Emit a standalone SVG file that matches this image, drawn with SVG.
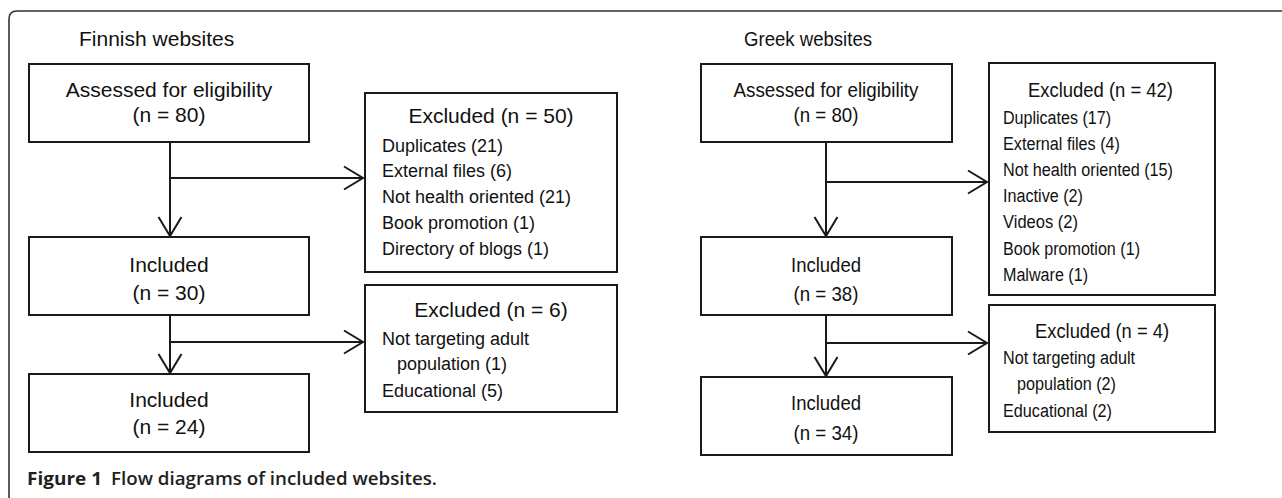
<svg xmlns="http://www.w3.org/2000/svg" width="1282" height="498" viewBox="0 0 1282 498">
<style>
.box{fill:#fff;stroke:#1a1a1a;stroke-width:2}
.ln{fill:none;stroke:#1a1a1a;stroke-width:2}
.t{font-family:"Liberation Sans",Arial,sans-serif;font-size:21px;fill:#111}
.c{text-anchor:middle}
.i{font-family:"Liberation Sans",Arial,sans-serif;font-size:18px;fill:#111}
.cap{font-family:"Open Sans","Noto Sans",sans-serif;font-size:18.5px;fill:#231f20}
</style>
<defs>
<marker id="ah" viewBox="-20 -13 22 26" refX="0" refY="0" markerWidth="22" markerHeight="26" markerUnits="userSpaceOnUse" orient="auto">
<path d="M-19,-11.5 L0,0 L-19,11.5" fill="none" stroke="#1a1a1a" stroke-width="2"/>
</marker>
</defs>
<rect width="1282" height="498" fill="#fff"/>
<path d="M9,498 V19 Q9,11 17,11 H1282" fill="none" stroke="#333" stroke-width="1.6"/>

<text class="t" x="79" y="46">Finnish websites</text>
<text class="t" x="744" y="46" textLength="128" lengthAdjust="spacingAndGlyphs">Greek websites</text>

<g id="connectors">
<path class="ln" d="M170,142 V236" marker-end="url(#ah)"/>
<path class="ln" d="M170,178 H363" marker-end="url(#ah)"/>
<path class="ln" d="M170,316 V373" marker-end="url(#ah)"/>
<path class="ln" d="M170,342 H363" marker-end="url(#ah)"/>
<path class="ln" d="M826,142 V236" marker-end="url(#ah)"/>
<path class="ln" d="M826,182 H987" marker-end="url(#ah)"/>
<path class="ln" d="M826,316 V376" marker-end="url(#ah)"/>
<path class="ln" d="M826,343 H987" marker-end="url(#ah)"/>
</g>

<g id="fi-assessed">
<rect class="box" x="29" y="64" width="280" height="78"/>
<text class="t c" x="169" y="97">Assessed for eligibility</text>
<text class="t c" x="169" y="122">(n = 80)</text>
</g>
<g id="fi-included1">
<rect class="box" x="29" y="237" width="280" height="78"/>
<text class="t c" x="169" y="272">Included</text>
<text class="t c" x="169" y="300">(n = 30)</text>
</g>
<g id="fi-included2">
<rect class="box" x="29" y="374" width="280" height="78"/>
<text class="t c" x="169" y="407">Included</text>
<text class="t c" x="169" y="434">(n = 24)</text>
</g>
<g id="fi-excluded1">
<rect class="box" x="365" y="93" width="252" height="179"/>
<text class="t c" x="491" y="123">Excluded (n = 50)</text>
<text class="i" x="382" y="152">Duplicates (21)</text>
<text class="i" x="382" y="177">External files (6)</text>
<text class="i" x="382" y="203">Not health oriented (21)</text>
<text class="i" x="382" y="229">Book promotion (1)</text>
<text class="i" x="382" y="255">Directory of blogs (1)</text>
</g>
<g id="fi-excluded2">
<rect class="box" x="365" y="285" width="252" height="127"/>
<text class="t c" x="491" y="317">Excluded (n = 6)</text>
<text class="i" x="382" y="345">Not targeting adult</text>
<text class="i" x="397" y="370">population (1)</text>
<text class="i" x="382" y="397">Educational (5)</text>
</g>

<g id="gr-assessed">
<rect class="box" x="701" y="64" width="251" height="78"/>
<text class="t c" x="826" y="97" textLength="185" lengthAdjust="spacingAndGlyphs">Assessed for eligibility</text>
<text class="t c" x="826" y="122" textLength="65" lengthAdjust="spacingAndGlyphs">(n = 80)</text>
</g>
<g id="gr-included1">
<rect class="box" x="701" y="237" width="251" height="78"/>
<text class="t c" x="826" y="272" textLength="70" lengthAdjust="spacingAndGlyphs">Included</text>
<text class="t c" x="826" y="301" textLength="65" lengthAdjust="spacingAndGlyphs">(n = 38)</text>
</g>
<g id="gr-included2">
<rect class="box" x="701" y="377" width="251" height="78"/>
<text class="t c" x="826" y="410" textLength="70" lengthAdjust="spacingAndGlyphs">Included</text>
<text class="t c" x="826" y="440" textLength="65" lengthAdjust="spacingAndGlyphs">(n = 34)</text>
</g>
<g id="gr-excluded1">
<rect class="box" x="989" y="63" width="226" height="232"/>
<text class="t c" x="1100.5" y="97" textLength="145" lengthAdjust="spacingAndGlyphs">Excluded (n = 42)</text>
<text class="i" x="1003" y="123.5" textLength="108" lengthAdjust="spacingAndGlyphs">Duplicates (17)</text>
<text class="i" x="1003" y="149.5" textLength="117" lengthAdjust="spacingAndGlyphs">External files (4)</text>
<text class="i" x="1003" y="176" textLength="170" lengthAdjust="spacingAndGlyphs">Not health oriented (15)</text>
<text class="i" x="1003" y="202" textLength="80" lengthAdjust="spacingAndGlyphs">Inactive (2)</text>
<text class="i" x="1003" y="228" textLength="75" lengthAdjust="spacingAndGlyphs">Videos (2)</text>
<text class="i" x="1003" y="254.5" textLength="137" lengthAdjust="spacingAndGlyphs">Book promotion (1)</text>
<text class="i" x="1003" y="281" textLength="85" lengthAdjust="spacingAndGlyphs">Malware (1)</text>
</g>
<g id="gr-excluded2">
<rect class="box" x="989" y="305" width="226" height="127"/>
<text class="t c" x="1102" y="337.5" textLength="134" lengthAdjust="spacingAndGlyphs">Excluded (n = 4)</text>
<text class="i" x="1003" y="363.5" textLength="132" lengthAdjust="spacingAndGlyphs">Not targeting adult</text>
<text class="i" x="1017" y="390" textLength="99" lengthAdjust="spacingAndGlyphs">population (2)</text>
<text class="i" x="1003" y="416.5" textLength="109" lengthAdjust="spacingAndGlyphs">Educational (2)</text>
</g>

<text class="cap" x="27" y="485" font-weight="700" textLength="75" lengthAdjust="spacingAndGlyphs">Figure 1</text>
<text class="cap" x="111" y="485" font-weight="600" textLength="326" lengthAdjust="spacingAndGlyphs">Flow diagrams of included websites.</text>
</svg>
